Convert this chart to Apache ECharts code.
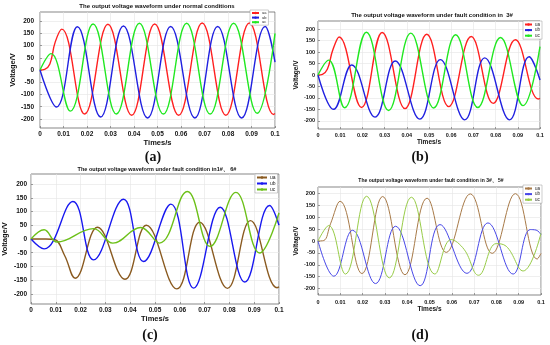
<!DOCTYPE html>
<html><head><meta charset="utf-8">
<script src="https://cdn.jsdelivr.net/npm/echarts@6/dist/echarts.min.js"></script>
<style>html,body{margin:0;padding:0;background:#fff}#c{width:550px;height:345px}</style>
</head><body><div id="c"></div>
<script>
// ---- data (time in s, voltage in V) ----
const yTicks = [-200, -150, -100, -50, 0, 50, 100, 150, 200];
const seriesNames = ['ua', 'ub', 'uc'];
const titles = [
  'The output voltage waveform under normal conditions',
  'The output voltage waveform under fault condition in  3#',
  'The output voltage waveform under fault condition in1#\u3001 6#',
  'The output voltage waveform under fault condition in 3#\u3001 5#'
];
const panelLabels = ['(a)', '(b)', '(c)', '(d)'];

const aUa = [[0,0],[0.002,3],[0.0042,25],[0.0065,115],[0.0093,167],[0.019,-180],[0.0289,187],[0.039,-185],[0.0488,188],[0.059,-185],[0.069,192],[0.0791,-185],[0.0891,192],[0.0994,-182],[0.1,-178]];
const aUb = [[0,0],[0.007,-151],[0.0159,177],[0.0258,-192],[0.0355,180],[0.0458,-196],[0.0556,178],[0.0659,-196],[0.0756,178],[0.0858,-196],[0.0958,178],[0.1,32]];
const aUc = [[0,0],[0.0047,67],[0.0129,-168],[0.0226,188],[0.0325,-180],[0.0423,191],[0.0525,-180],[0.0624,191],[0.0724,-180],[0.0824,191],[0.0924,-177],[0.1,150]];

const bUa = [[0,0],[0.002,3],[0.0042,25],[0.0067,110],[0.0095,166],[0.0196,-142],[0.0289,186],[0.0392,-147],[0.049,178],[0.0589,-138],[0.069,168],[0.0789,-124],[0.0889,154],[0.0992,-105],[0.1,-102]];
const bUb = [[0,0],[0.007,-150],[0.0152,44],[0.0257,-184],[0.0348,61],[0.0459,-193],[0.0551,67],[0.0661,-196],[0.0751,75],[0.0863,-196],[0.0951,80],[0.1,-22]];
const bUc = [[0,0],[0.0048,65],[0.012,-143],[0.0218,187],[0.0318,-155],[0.0418,183],[0.0521,-144],[0.062,176],[0.072,-142],[0.0822,164],[0.0924,-134],[0.1,124]];

const cUa = [[0,0],[0.006,0],[0.0095,-2],[0.0136,-61],[0.0178,-143],[0.0268,43],[0.0379,-147],[0.0465,50],[0.0588,-182],[0.068,61],[0.0792,-180],[0.0885,67],[0.0992,-178],[0.1,-175]];
const cUb = [[0,0],[0.0053,-36],[0.0169,137],[0.0252,-76],[0.0373,145],[0.0454,-82],[0.0564,127],[0.0656,-179],[0.0763,116],[0.0862,-157],[0.0962,122],[0.1,50]];
const cUc = [[0,0],[0.0053,34],[0.0105,-11],[0.0252,38],[0.033,-15],[0.0442,42],[0.0518,-15],[0.063,173],[0.0722,-27],[0.0826,170],[0.0922,-51],[0.1,95]];

const dUa = [[0,0],[0.0026,2],[0.0056,72],[0.0099,167],[0.0197,-137],[0.029,187],[0.039,-142],[0.0489,180],[0.0575,-48],[0.0683,198],[0.0781,-52],[0.0885,199],[0.0983,-76],[0.1,-52]];
const dUb = [[0,0],[0.0071,-148],[0.0155,45],[0.0258,-179],[0.0348,62],[0.0458,-188],[0.0547,69],[0.0668,-136],[0.0762,76],[0.0875,-139],[0.0952,48],[0.0978,46],[0.1,27]];
const dUc = [[0,0],[0.0048,65],[0.0123,-139],[0.0218,188],[0.032,-155],[0.0419,184],[0.0524,-139],[0.0597,6],[0.0655,-35],[0.072,-144],[0.0799,-11],[0.0844,-22],[0.092,-126],[0.1,33]];

const panelData = [[aUa, aUb, aUc], [bUa, bUb, bUc], [cUa, cUb, cUc], [dUa, dUb, dUc]];

// ---- layout / style ----
const SANS = '"Liberation Sans", Arial, sans-serif';
const panels = [
  {grid:{left:40,top:12,width:235,height:116}, yr:237, fs:6.5, nfs:7.5, xm:3, ym:6, xng:10, yng:19,
   colors:['#ff2020','#2020e0','#20e820'], lw:1.4,
   lg:{left:250,top:10,iw:7,ih:3,fs:4,gap:0.6}, title:{x:157,y:6,fs:6}, lab:{x:153,y:157}},
  {grid:{left:318,top:21,width:222,height:108}, yr:236, fs:5.5, nfs:6.5, xm:3, ym:3, xng:9.5, yng:13,
   colors:['#ff2020','#2020e0','#20e820'], lw:1.4,
   lg:{left:523,top:21,iw:7,ih:3,fs:4.5,gap:0.6}, title:{x:432,y:15.5,fs:6}, lab:{x:420,y:157}},
  {grid:{left:31,top:174,width:248,height:130}, yr:237, fs:6.5, nfs:7.5, xm:2.5, ym:4, xng:11, yng:22,
   colors:['#8a5a20','#1818f0','#6cc018'], lw:1.4,
   lg:{left:255,top:174,iw:10,ih:3,fs:5,gap:1},title:{x:157,y:169.5,fs:5.5}, lab:{x:150,y:335}},
  {grid:{left:318,top:187,width:223,height:108}, yr:227, fs:5.5, nfs:6.5, xm:4, ym:3, xng:10, yng:15,
   colors:['#a87a48','#4848e8','#98cc48'], lw:1.0,
   lg:{left:523,top:185,iw:7,ih:3,fs:4.5,gap:0.6}, title:{x:431,y:181,fs:5}, lab:{x:420,y:335}}
];

const grid = [], xAxis = [], yAxis = [], series = [], legend = [], graphic = [];
panels.forEach((p, i) => {
  grid.push(Object.assign({show:true, borderColor:'#555', borderWidth:0.7, backgroundColor:'#fff', outerBoundsMode:'none', containLabel:false}, p.grid));
  xAxis.push({
    type:'value', gridIndex:i, min:0, max:0.1, interval:0.01, position:'bottom',
    name:'Times/s', nameLocation:'middle', nameGap:p.xng,
    nameTextStyle:{fontSize:p.nfs, fontWeight:'bold', color:'#111', fontFamily:SANS},
    axisLine:{show:false, onZero:false},
    axisTick:{show:true, inside:true, length:2, lineStyle:{color:'#444', width:0.5}},
    axisLabel:{fontSize:p.fs, margin:p.xm, color:'#111', fontWeight:'bold', fontFamily:SANS, showMinLabel:true, showMaxLabel:true},
    splitLine:{show:true, lineStyle:{color:'#e4e4e4', width:0.6}}
  });
  yAxis.push({
    type:'value', gridIndex:i, min:-p.yr, max:p.yr, position:'left',
    name:'Voltage/V', nameLocation:'middle', nameGap:p.yng,
    nameTextStyle:{fontSize:p.nfs, fontWeight:'bold', color:'#111', fontFamily:SANS},
    axisLine:{show:false, onZero:false},
    axisTick:{show:true, inside:true, length:2, customValues:yTicks, lineStyle:{color:'#444', width:0.5}},
    axisLabel:{fontSize:p.fs, margin:p.ym, color:'#111', fontWeight:'bold', fontFamily:SANS, customValues:yTicks},
    splitLine:{show:true, lineStyle:{color:'#e4e4e4', width:0.6}}
  });
  const names = [];
  panelData[i].forEach((d, k) => {
    const nm = seriesNames[k] + '_' + i;
    names.push(nm);
    series.push({
      type:'line', name:nm, xAxisIndex:i, yAxisIndex:i, data:d,
      symbol:'none', showSymbol:false, smooth:0.42,
      color:p.colors[k], lineStyle:{width:p.lw, color:p.colors[k]}
    });
  });
  legend.push({
    orient:'vertical', left:p.lg.left, top:p.lg.top, data:names,
    itemWidth:p.lg.iw, itemHeight:p.lg.ih, itemGap:p.lg.gap, padding:[1,2,1,1],
    borderColor:'#999', borderWidth:0.5, backgroundColor:'#fff', selectedMode:false,
    textStyle:{fontSize:p.lg.fs, lineHeight:p.lg.fs, color:'#222', fontFamily:SANS, padding:[0,0,0,-2]},
    formatter: n => n.split('_')[0]
  });
  graphic.push({type:'text', x:p.title.x, y:p.title.y, z:10,
    style:{text:titles[i], font:'bold ' + p.title.fs + 'px ' + SANS, fill:'#111', align:'center', verticalAlign:'middle'}});
  graphic.push({type:'text', x:p.lab.x, y:p.lab.y, z:10,
    style:{text:panelLabels[i], font:'bold 14px "Liberation Serif", "Times New Roman", serif', fill:'#111', align:'center', verticalAlign:'middle'}});
});

const chart = echarts.init(document.getElementById('c'), null, {renderer:'canvas'});
chart.setOption({animation:false, backgroundColor:'#fff', grid, xAxis, yAxis, series, legend, graphic});
</script></body></html>
